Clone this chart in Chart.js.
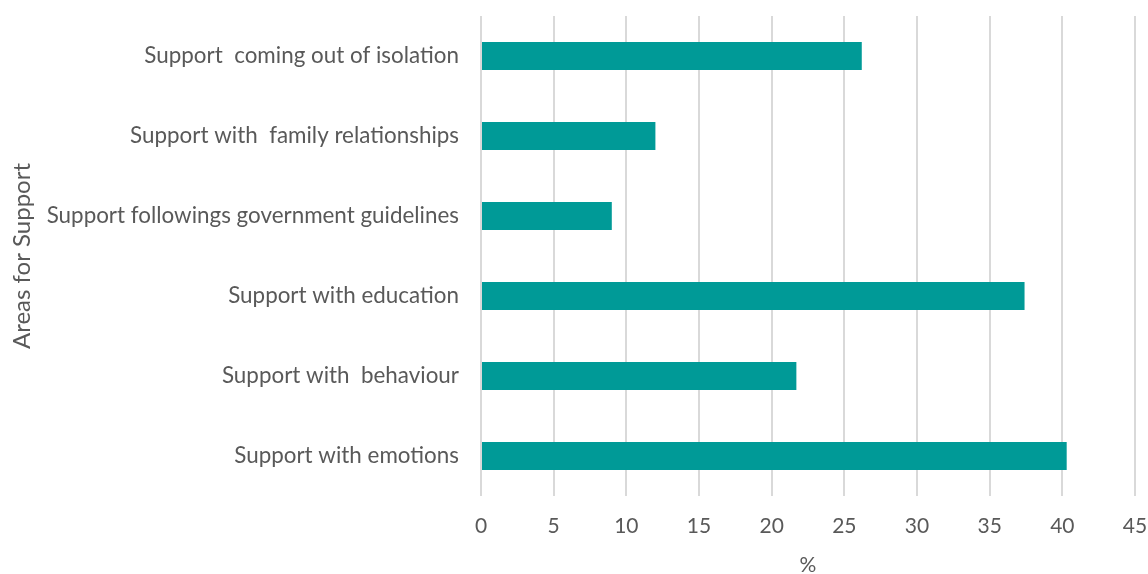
<!DOCTYPE html>
<html>
<head>
<meta charset="utf-8">
<script src="https://cdn.jsdelivr.net/npm/chart.js@4"></script>
<style>
  html, body { margin: 0; padding: 0; background: #fff; }
  #wrap { width: 1148px; height: 574px; }
</style>
</head>
<body>
<div id="wrap"><canvas id="supportChart"></canvas></div>
<script>
// Data
const categories = [
    'Support  coming out of isolation',
    'Support with  family relationships',
    'Support followings government guidelines',
    'Support with education',
    'Support with  behaviour',
    'Support with emotions'
];
const percentages = [26.2, 12.0, 9.0, 37.4, 21.7, 40.3];
const xTicks = [0, 5, 10, 15, 20, 25, 30, 35, 40, 45];

const textColor = '#595959';
const fontFamily = 'Lato, "Open Sans", sans-serif';

const ctx = document.getElementById('supportChart').getContext('2d');

const supportChart = new Chart(ctx, {
    type: 'bar',
    data: {
        labels: categories,
        datasets: [{
            label: '%',
            data: percentages,
            backgroundColor: '#009a97',
            borderWidth: 0,
            barPercentage: 0.35,
            categoryPercentage: 1.0
        }]
    },
    options: {
        indexAxis: 'y',
        responsive: true,
        maintainAspectRatio: false,
        animation: false,
        layout: {
            padding: { top: 16, right: 13, bottom: 0, left: 0 }
        },
        plugins: {
            legend: { display: false },
            tooltip: { enabled: false }
        },
        scales: {
            x: {
                min: 0,
                max: 45,
                afterBuildTicks: (axis) => {
                    axis.ticks = xTicks.map(v => ({ value: v }));
                },
                afterFit: (axis) => {
                    axis.height = 78;
                    axis.paddingLeft = 0;
                    axis.paddingRight = 0;
                },
                grid: {
                    color: '#d9d9d9',
                    lineWidth: 2,
                    drawTicks: false
                },
                border: { display: false },
                ticks: {
                    color: textColor,
                    padding: 18,
                    font: { family: fontFamily, size: 21 }
                },
                title: {
                    display: true,
                    text: '%',
                    color: textColor,
                    padding: { top: 11, bottom: -4 },
                    font: { family: fontFamily, size: 21 }
                }
            },
            y: {
                afterFit: (axis) => {
                    axis.width = 481;
                    axis.paddingTop = 0;
                    axis.paddingBottom = 0;
                },
                grid: { display: false, drawTicks: false },
                border: { display: false },
                ticks: {
                    color: textColor,
                    padding: 22,
                    font: { family: fontFamily, size: 22.4 }
                },
                title: {
                    display: true,
                    text: 'Areas for Support',
                    color: textColor,
                    padding: { top: 8, bottom: 0 },
                    font: { family: fontFamily, size: 24 }
                }
            }
        }
    }
});
</script>
</body>
</html>
